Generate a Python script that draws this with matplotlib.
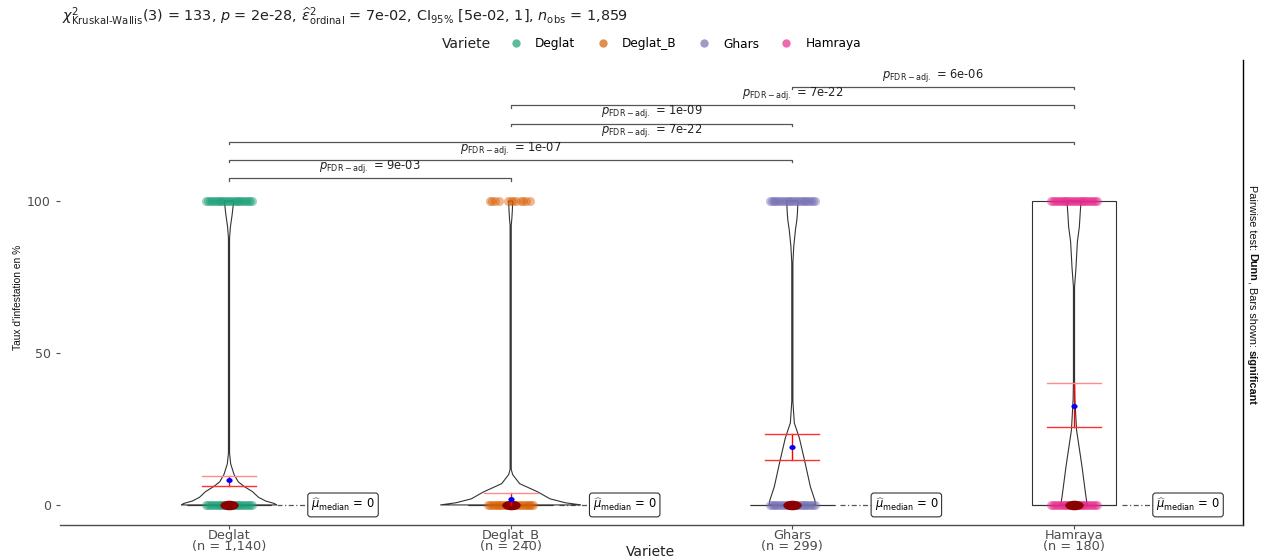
import numpy as np
import matplotlib
matplotlib.use("Agg")
import matplotlib.pyplot as plt
from matplotlib.path import Path
from matplotlib.transforms import Affine2D
from matplotlib.lines import Line2D

plt.rcParams['font.family'] = ['DejaVu Sans']
plt.rcParams['mathtext.fontset'] = 'dejavusans'

# ---------------- data ----------------
categories = ["Deglat", "Deglat_B", "Ghars", "Hamraya"]
n_obs = ["1,140", "240", "299", "180"]
colors = ["#1B9E77", "#D95F02", "#7570B3", "#E7298A"]

means = [8.2, 2.0, 19.1, 32.6]
ci_low = [6.2, 0.0, 14.8, 25.7]
ci_high = [9.5, 4.0, 23.4, 40.1]
medians = [0, 0, 0, 0]
box_q1 = [0, 0, 0, 0]
box_q3 = [0, 0, 0, 100]
point_levels = [0, 100]

# violin profiles (value, half-width in category units)
violin_deglat_y = [0, 0.5, 1.3, 2.5, 4.4, 6, 7.6, 10, 13.5, 17, 40, 87.8, 91.5, 95.4, 98.7, 100]
violin_deglat_w = [0.17, 0.16, 0.13, 0.105, 0.083, 0.055, 0.033, 0.018, 0.006, 0.002, 0.002, 0.002, 0.005, 0.011, 0.015, 0.017]
violin_deglatb_y = [0, 0.7, 2, 4.3, 7, 10, 11.7, 40, 92, 94, 97, 100]
violin_deglatb_w = [0.25, 0.195, 0.14, 0.096, 0.032, 0.007, 0.002, 0.002, 0.002, 0.004, 0.006, 0.007]
violin_ghars_y = [0, 1.5, 6, 14, 22, 27, 34, 60, 79.6, 85, 90.5, 93.7, 96, 100]
violin_ghars_w = [0.082, 0.08, 0.064, 0.045, 0.025, 0.007, 0.002, 0.002, 0.002, 0.005, 0.011, 0.016, 0.018, 0.02]
violin_hamraya_y = [0, 3, 12.9, 24.7, 35, 41, 60, 71.8, 78, 86.6, 91.5, 96, 100]
violin_hamraya_w = [0.047, 0.042, 0.028, 0.009, 0.003, 0.002, 0.002, 0.002, 0.007, 0.012, 0.019, 0.022, 0.025]

pairs = [(1, 2), (1, 3), (1, 4), (2, 3), (2, 4), (3, 4)]
pair_p = ["9e-03", "1e-07", "7e-22", "1e-09", "7e-22", "6e-06"]
pair_y = [107.5, 113.5, 119.5, 125.5, 131.5, 137.5]

# ---------------- figure ----------------
W, H = 1273, 558
fig = plt.figure(figsize=(W / 100, H / 100), dpi=100)
ax = fig.add_axes([60 / W, 1 - 525 / H, (1243 - 60) / W, (525 - 60) / H])
ax.set_xlim(0.4, 4.6)
ax.set_ylim(-6.6, 146.4)

pos = np.arange(1, len(categories) + 1)
violins = [(violin_deglat_y, violin_deglat_w), (violin_deglatb_y, violin_deglatb_w),
           (violin_ghars_y, violin_ghars_w), (violin_hamraya_y, violin_hamraya_w)]

# boxplots
stats = []
for i in range(len(categories)):
    stats.append(dict(med=medians[i], q1=box_q1[i], q3=box_q3[i],
                      whislo=box_q1[i], whishi=box_q3[i], fliers=[]))
ax.bxp(stats, positions=pos, widths=0.3, showcaps=False, showfliers=False,
       patch_artist=True,
       boxprops=dict(facecolor="white", edgecolor="#333333", linewidth=0.8),
       medianprops=dict(color="#333333", linewidth=0.8),
       whiskerprops=dict(color="#333333", linewidth=0.8), zorder=1)

# violins
for i, (vy, vw) in enumerate(violins):
    vy = np.asarray(vy); vw = np.asarray(vw)
    xs = np.concatenate([pos[i] + vw, (pos[i] - vw)[::-1]])
    ys = np.concatenate([vy, vy[::-1]])
    ax.fill(xs, ys, facecolor="none", edgecolor="#333333", linewidth=0.8, zorder=2)

# jittered points
jitter_default = np.linspace(-0.08, 0.08, 25)
jitter_db_top = np.array([-0.075, -0.065, -0.055, -0.04, -0.01, 0.0, 0.01, 0.02, 0.035, 0.045, 0.055, 0.07])
for i in range(len(categories)):
    for lev in point_levels:
        offs = jitter_db_top if (i == 1 and lev == 100) else jitter_default
        ax.scatter(pos[i] + offs, np.full(len(offs), lev), s=42, color=colors[i],
                   alpha=0.45, linewidths=0, zorder=3)

# median points (ellipse marker)
ell = Path.unit_circle().transformed(Affine2D().scale(1.0, 0.52))
ax.scatter(pos, medians, marker=ell, s=175, color="#8B0000", zorder=5, linewidths=0)

# mean + CI
cap_hw = 0.096
upper_cap_colors = ["#FF8C8C", "#FF8C8C", "#FF3030", "#FF8C8C"]
for i in range(len(categories)):
    ax.plot([pos[i], pos[i]], [ci_low[i], ci_high[i]], color="red", lw=1.0, zorder=6)
    ax.plot([pos[i] - cap_hw, pos[i] + cap_hw], [ci_high[i]] * 2, color=upper_cap_colors[i], lw=1.0, zorder=6)
    if ci_low[i] > 0:
        ax.plot([pos[i] - cap_hw, pos[i] + cap_hw], [ci_low[i]] * 2, color="#FF3030", lw=1.0, zorder=6)
ell_small = Path.unit_circle().transformed(Affine2D().scale(1.0, 0.8))
ax.scatter(pos, means, marker=ell_small, s=20, color="#0000FF", zorder=7, linewidths=0)

# median labels
for i in range(len(categories)):
    lx = pos[i] + 0.28
    ax.plot([pos[i] + 0.17, lx], [medians[i]] * 2, color="#555555", lw=0.9,
            linestyle=(0, (4, 2, 1, 2)), zorder=1)
    ax.text(lx + 0.012, medians[i], r"$\widehat{\mu}_{\mathrm{median}}$ = 0", fontsize=8.3,
            ha="left", va="center", color="black",
            bbox=dict(boxstyle="round,pad=0.3,rounding_size=0.25", facecolor="white",
                      edgecolor="#333333", linewidth=0.8), zorder=8)

# significance brackets
for (a, b), p, yv in zip(pairs, pair_p, pair_y):
    ax.plot([a, a, b, b], [yv - 0.8, yv, yv, yv - 0.8], color="#555555", lw=0.9, zorder=2)
    ax.text((a + b) / 2, yv + 1.0, r"$\mathit{p}_{\mathrm{FDR-adj.}}$ = " + p, fontsize=8.3,
            ha="center", va="bottom", color="#222222")

# axes styling
ax.set_yticks([0, 50, 100])
ax.set_yticklabels(["0", "50", "100"], color="#4D4D4D", fontsize=9)
ax.set_xticks(pos)
ax.set_xticklabels([f"{c}\n(n = {n})" for c, n in zip(categories, n_obs)],
                   color="#4D4D4D", fontsize=9.3, linespacing=0.8)
ax.tick_params(axis="both", length=3, color="#4D4D4D", width=0.8)
ax.tick_params(axis="x", pad=0)
for s in ["top", "left"]:
    ax.spines[s].set_visible(False)
ax.spines["bottom"].set_color("#4D4D4D")
ax.spines["bottom"].set_linewidth(1.0)
ax.spines["right"].set_color("black")
ax.spines["right"].set_linewidth(1.0)

fig.text(650 / W, 1 - 552 / H, "Variete", ha="center", va="center", fontsize=10, color="#222222")
fig.text(18 / W, 1 - 297 / H, "Taux d'infestation en %", rotation=90, ha="center", va="center",
         fontsize=7.4, family="Liberation Sans", color="#111111")

# right-side caption, built from pieces (normal / bold)
renderer = fig.canvas.get_renderer()
pieces = [("Pairwise test: ", "normal"), ("Dunn", "bold"), (", Bars shown: ", "normal"), ("significant", "bold")]
txts = []
for s, wgt in pieces:
    t = fig.text(1252 / W, 0.5, s, rotation=270, ha="center", va="top", fontsize=7.8,
                 family="Liberation Sans", fontweight=wgt, color="#111111")
    txts.append(t)
heights = [t.get_window_extent(renderer).height for t in txts]
total = sum(heights)
ytop = (H - 295) + total / 2
for t, h in zip(txts, heights):
    t.set_y(ytop / H)
    ytop -= h

# subtitle
fig.text(62 / W, 1 - 17 / H,
         r"$\chi^{2}_{\mathrm{Kruskal\text{-}Wallis}}$(3) = 133, $\mathit{p}$ = 2e-28, "
         r"$\widehat{\epsilon}^{2}_{\mathrm{ordinal}}$ = 7e-02, CI$_{\mathrm{95\%}}$ [5e-02, 1], "
         r"$\mathit{n}_{\mathrm{obs}}$ = 1,859",
         ha="left", va="center", fontsize=10.35, color="#222222")

# legend
fig.text(466 / W, 1 - 44 / H, "Variete", ha="center", va="center", fontsize=10, color="#222222")
handles = [Line2D([], [], marker="o", linestyle="none", markersize=6, color=c, alpha=0.7,
                  markeredgewidth=0) for c in colors]
fig.legend(handles, categories, loc="center left", bbox_to_anchor=(505 / W, 1 - 44 / H),
           ncol=4, frameon=False, fontsize=8.7, handletextpad=1.1, columnspacing=1.75,
           borderaxespad=0, handlelength=1.0)

fig.savefig("out.png", dpi=100)
